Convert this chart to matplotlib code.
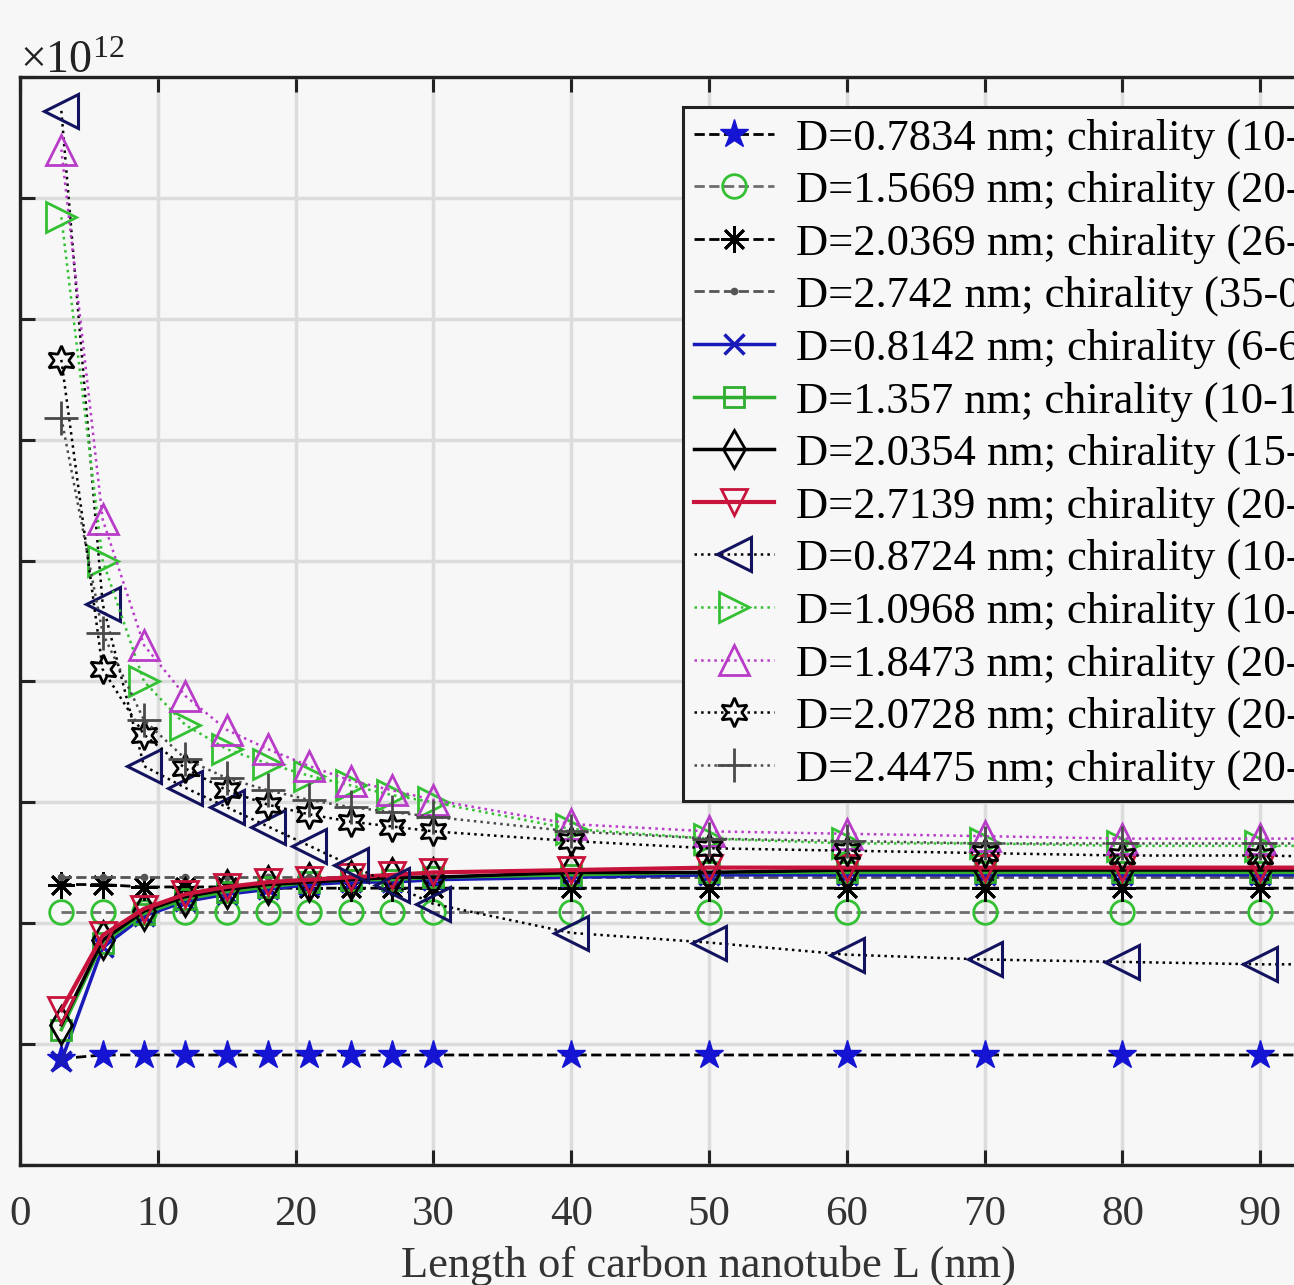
import numpy as np
import matplotlib.pyplot as plt
from matplotlib.ticker import ScalarFormatter

plt.rcParams['font.family'] = ['Liberation Serif', 'DejaVu Serif']
plt.rcParams['mathtext.fontset'] = 'custom'
plt.rcParams['mathtext.rm'] = 'Liberation Serif'

# length of CNT (nm)
L = [3, 6, 9, 12, 15, 18, 21, 24, 27, 30, 40, 50, 60, 70, 80, 90, 100]

# values in units of 1e12
d07834 = [0.44, 0.455, 0.455, 0.455, 0.455, 0.455, 0.455, 0.455, 0.455, 0.455, 0.455, 0.455, 0.455, 0.455, 0.455, 0.455, 0.455]
d15669 = [1.045] * 17
d20369 = [1.16, 1.16, 1.15, 1.15, 1.15, 1.145, 1.145, 1.145, 1.145, 1.145, 1.145, 1.145, 1.145, 1.145, 1.145, 1.145, 1.145]
d2742 = [1.19] * 17
d08142 = [0.43, 0.90, 1.03, 1.09, 1.12, 1.14, 1.16, 1.17, 1.17, 1.18, 1.19, 1.20, 1.20, 1.20, 1.20, 1.20, 1.20]
d1357 = [0.56, 0.92, 1.04, 1.10, 1.13, 1.15, 1.17, 1.18, 1.18, 1.19, 1.20, 1.21, 1.21, 1.21, 1.21, 1.21, 1.21]
d20354 = [0.58, 0.93, 1.05, 1.11, 1.14, 1.16, 1.17, 1.18, 1.19, 1.19, 1.21, 1.21, 1.22, 1.22, 1.22, 1.22, 1.22]
d27139 = [0.64, 0.95, 1.06, 1.12, 1.15, 1.17, 1.18, 1.19, 1.20, 1.21, 1.22, 1.23, 1.23, 1.23, 1.23, 1.23, 1.23]
d08724 = [4.36, 2.32, 1.65, 1.56, 1.48, 1.40, 1.32, 1.24, 1.16, 1.08, 0.96, 0.92, 0.87, 0.85, 0.84, 0.83, 0.83]
d10968 = [3.92, 2.50, 2.00, 1.82, 1.72, 1.66, 1.61, 1.57, 1.53, 1.50, 1.39, 1.35, 1.33, 1.33, 1.32, 1.32, 1.32]
d18473 = [4.20, 2.67, 2.15, 1.94, 1.80, 1.72, 1.65, 1.59, 1.55, 1.51, 1.41, 1.38, 1.37, 1.36, 1.35, 1.35, 1.35]
d20728 = [3.33, 2.05, 1.78, 1.64, 1.55, 1.49, 1.45, 1.42, 1.40, 1.38, 1.34, 1.31, 1.30, 1.29, 1.28, 1.28, 1.27]
d24475 = [3.09, 2.20, 1.84, 1.68, 1.60, 1.55, 1.51, 1.48, 1.46, 1.44, 1.38, 1.35, 1.34, 1.33, 1.33, 1.33, 1.33]

labels = [
    'D=0.7834 nm; chirality (10-0)',
    'D=1.5669 nm; chirality (20-0)',
    'D=2.0369 nm; chirality (26-0)',
    'D=2.742 nm; chirality (35-0)',
    'D=0.8142 nm; chirality (6-6)',
    'D=1.357 nm; chirality (10-10)',
    'D=2.0354 nm; chirality (15-15)',
    'D=2.7139 nm; chirality (20-20)',
    'D=0.8724 nm; chirality (10-2)',
    'D=1.0968 nm; chirality (10-6)',
    'D=1.8473 nm; chirality (20-6)',
    'D=2.0728 nm; chirality (20-10)',
    'D=2.4475 nm; chirality (20-16)',
]

bg = '#f7f7f7'
fig = plt.figure(figsize=(12.94, 12.85), dpi=100, facecolor=bg)
ax = fig.add_axes([20/1294, 120/1285, 1378/1294, 1088/1285], facecolor=bg)

x = np.array(L)
s = 1e12
ax.plot(x, np.array(d07834)*s, '--', color='k', lw=2, marker='*', ms=21, mfc='#1414d2', mec='#1414d2', label=labels[0])
ax.plot(x, np.array(d15669)*s, '--', color='#6e6e6e', lw=2, marker='o', ms=17, mfc='none', mec='#33c033', mew=2, label=labels[1])
ax.plot(x, np.array(d20369)*s, '--', color='k', lw=2, marker=(8, 2, 0), ms=19, mew=2, label=labels[2])
ax.plot(x, np.array(d2742)*s, '--', color='#555555', lw=2, marker='.', ms=9, label=labels[3])
ax.plot(x, np.array(d08142)*s, '-', color='#1a1ab8', lw=2.5, marker='x', ms=15, mew=2.5, label=labels[4])
ax.plot(x, np.array(d1357)*s, '-', color='#2fae2f', lw=2.5, marker='s', ms=15, mfc='none', mew=2, label=labels[5])
ax.plot(x, np.array(d20354)*s, '-', color='k', lw=2.5, marker='d', ms=19, mfc='none', mew=2, label=labels[6])
ax.plot(x, np.array(d27139)*s, '-', color='#c8143c', lw=3, marker='v', ms=19, mfc='none', mew=2, label=labels[7])
ax.plot(x, np.array(d08724)*s, ':', color='k', lw=1.8, marker='<', ms=24, mfc='none', mec='#12125e', mew=2.2, label=labels[8])
ax.plot(x, np.array(d10968)*s, ':', color='#33c033', lw=1.8, marker='>', ms=22, mfc='none', mew=2, label=labels[9])
ax.plot(x, np.array(d18473)*s, ':', color='#b83cc8', lw=1.8, marker='^', ms=22, mfc='none', mew=2, label=labels[10])
ax.plot(x, np.array(d20728)*s, ':', color='k', lw=1.8, marker=(6, 1, 0), ms=21, mfc='none', mew=2, label=labels[11])
ax.plot(x, np.array(d24475)*s, ':', color='#4a4a4a', lw=1.8, marker='+', ms=24, mew=2, label=labels[12])

ax.set_xlim(0, 100)
ax.set_ylim(0, 4.5e12)
ax.set_xticks(np.arange(0, 101, 10))
ax.set_yticks(np.arange(0, 4.51e12, 0.5e12))
fmt = ScalarFormatter(useMathText=True)
fmt.set_powerlimits((0, 0))
ax.yaxis.set_major_formatter(fmt)
ax.yaxis.get_offset_text().set_fontsize(33)
ax.yaxis.get_offset_text().set_color('#333333')

ax.grid(True, color='#dcdcdc', lw=2.5, ls='-')
ax.set_axisbelow(True)
ax.tick_params(direction='in', top=True, right=True, length=11, width=2.2, labelsize=31, pad=22, colors='#222222')
ax.tick_params(axis='x', labelcolor='#333333')
for sp in ax.spines.values():
    sp.set_linewidth(2.4)
    sp.set_color('#222222')

ax.set_xlabel('Length of carbon nanotube L (nm)', fontsize=32, color='#333333', labelpad=8)

leg = ax.legend(loc='upper left', bbox_to_anchor=(683/1294, 1 - 107/1285),
                bbox_transform=fig.transFigure, fontsize=32, frameon=True,
                fancybox=False, edgecolor='#222222', facecolor=bg, framealpha=1,
                handlelength=1.8, handletextpad=0.5, labelspacing=0.27,
                borderpad=0.25, borderaxespad=0, numpoints=1)
leg.get_frame().set_linewidth(2.2)

fig.savefig('out.png', dpi=100, facecolor=bg)
